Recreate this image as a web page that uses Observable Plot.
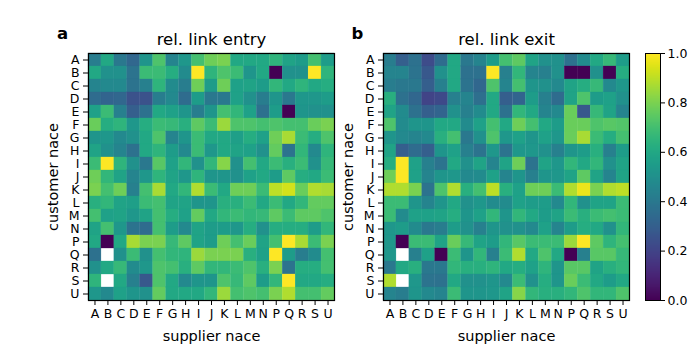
<!DOCTYPE html>
<html><head><meta charset="utf-8">
<script src="https://cdn.jsdelivr.net/npm/d3@7"></script>
<script src="https://cdn.jsdelivr.net/npm/@observablehq/plot@0.6"></script>
<style>
body{margin:0;background:#fff;}
#wrap{position:relative;width:700px;height:350px;overflow:hidden;font-family:"DejaVu Sans",sans-serif;background:#fff;}
#wrap > div, #wrap > svg{position:absolute;top:0;}
</style></head>
<body><div id="wrap"></div>
<script>
const naceLabels = ["A","B","C","D","E","F","G","H","I","J","K","L","M","N","P","Q","R","S","U"];
const colorTicks = [0, 0.2, 0.4, 0.6, 0.8, 1.0];

// rows = customer nace (A..U), columns = supplier nace (A..U); null = missing
const entryRows = [
 [0.42,0.60,0.40,0.33,0.52,0.72,0.45,0.53,0.70,0.78,0.80,0.60,0.60,0.60,0.65,0.58,0.55,0.70,0.55],
 [0.60,0.50,0.50,0.38,0.68,0.68,0.62,0.48,1.00,0.65,0.72,0.68,0.52,0.60,0.00,0.50,0.50,1.00,0.65],
 [0.45,0.47,0.47,0.38,0.43,0.65,0.48,0.42,0.78,0.55,0.78,0.57,0.58,0.55,0.66,0.60,0.65,0.60,0.62],
 [0.35,0.32,0.33,0.25,0.25,0.42,0.47,0.35,0.55,0.40,0.40,0.57,0.50,0.42,0.52,0.40,0.53,0.53,0.55],
 [0.57,0.68,0.43,0.30,0.37,0.60,0.57,0.52,0.42,0.52,0.70,0.66,0.57,0.37,0.55,0.00,0.52,0.50,0.50],
 [0.77,0.62,0.65,0.53,0.62,0.68,0.67,0.63,0.75,0.68,0.85,0.72,0.72,0.70,0.72,0.70,0.70,0.77,0.80],
 [0.52,0.53,0.47,0.50,0.60,0.72,0.45,0.52,0.68,0.60,0.60,0.56,0.62,0.57,0.78,0.87,0.68,0.62,0.72],
 [0.58,0.50,0.45,0.37,0.60,0.65,0.55,0.47,0.68,0.53,0.60,0.58,0.57,0.50,0.76,0.38,0.66,0.47,0.65],
 [0.68,1.00,0.65,0.50,0.40,0.74,0.57,0.66,0.50,0.66,0.82,0.50,0.70,0.60,0.68,0.63,0.68,0.50,0.67],
 [0.78,0.66,0.58,0.45,0.53,0.65,0.58,0.53,0.65,0.52,0.52,0.50,0.57,0.60,0.55,0.75,0.62,0.60,0.68],
 [0.80,0.70,0.78,0.43,0.70,0.87,0.60,0.66,0.88,0.68,0.60,0.78,0.78,0.68,0.90,0.93,0.77,0.88,0.87],
 [0.63,0.66,0.58,0.56,0.68,0.70,0.58,0.58,0.52,0.52,0.63,0.63,0.68,0.60,0.68,0.60,0.66,0.76,0.76],
 [0.70,0.57,0.58,0.53,0.58,0.70,0.62,0.57,0.76,0.60,0.66,0.68,0.66,0.67,0.75,0.68,0.75,0.75,0.72],
 [0.58,0.70,0.53,0.38,0.35,0.70,0.55,0.47,0.58,0.55,0.55,0.53,0.62,0.50,0.62,0.62,0.62,0.55,0.66],
 [0.60,0.00,0.60,0.87,0.80,0.80,0.67,0.75,0.58,0.55,0.78,0.70,0.77,0.58,0.70,1.00,0.87,0.68,0.80],
 [0.37,null,0.50,0.68,0.50,0.70,0.66,0.65,0.85,0.80,0.80,0.80,0.63,0.57,1.00,0.55,0.42,0.48,0.70],
 [0.50,0.60,0.67,0.48,0.53,0.72,0.70,0.63,0.75,0.66,0.66,0.68,0.72,0.63,0.80,0.38,0.62,0.62,0.70],
 [0.65,null,0.60,0.43,0.27,0.72,0.60,0.47,0.52,0.52,0.72,0.67,0.75,0.55,0.66,1.00,0.60,0.60,0.62],
 [0.53,0.47,0.57,0.52,0.50,0.76,0.60,0.60,0.60,0.66,0.85,0.70,0.72,0.70,0.80,0.88,0.70,0.70,0.76]
];

const exitRows = [
 [0.42,0.30,0.37,0.23,0.35,0.60,0.40,0.45,0.55,0.70,0.75,0.58,0.50,0.50,0.37,0.48,0.60,0.67,0.55],
 [0.45,0.45,0.38,0.27,0.50,0.60,0.37,0.37,1.00,0.43,0.66,0.45,0.43,0.50,0.00,0.00,0.50,0.00,0.62],
 [0.42,0.40,0.40,0.30,0.43,0.60,0.38,0.33,0.72,0.45,0.70,0.52,0.50,0.47,0.58,0.62,0.67,0.47,0.53],
 [0.63,0.37,0.33,0.20,0.22,0.43,0.45,0.36,0.60,0.30,0.32,0.55,0.43,0.35,0.58,0.72,0.55,0.57,0.50],
 [0.58,0.48,0.37,0.30,0.32,0.50,0.43,0.48,0.60,0.37,0.66,0.60,0.45,0.47,0.77,0.27,0.67,0.58,0.45],
 [0.72,0.48,0.52,0.52,0.60,0.60,0.48,0.57,0.70,0.60,0.78,0.70,0.60,0.55,0.77,0.77,0.72,0.74,0.73],
 [0.52,0.47,0.45,0.47,0.63,0.70,0.40,0.50,0.72,0.53,0.57,0.52,0.57,0.53,0.77,0.87,0.68,0.62,0.70],
 [0.58,0.30,0.35,0.30,0.52,0.57,0.43,0.38,0.53,0.38,0.53,0.53,0.50,0.43,0.52,0.55,0.63,0.43,0.55],
 [0.62,1.00,0.57,0.43,0.38,0.60,0.50,0.58,0.45,0.58,0.78,0.38,0.58,0.53,0.66,0.60,0.66,0.50,0.58],
 [0.78,1.00,0.57,0.45,0.52,0.53,0.47,0.48,0.57,0.45,0.52,0.43,0.52,0.53,0.58,0.75,0.58,0.45,0.58],
 [0.88,0.88,0.80,0.38,0.72,0.88,0.63,0.70,0.90,0.63,0.57,0.78,0.78,0.68,0.88,0.97,0.80,0.88,0.90],
 [0.68,0.68,0.52,0.45,0.52,0.60,0.50,0.53,0.48,0.48,0.57,0.55,0.55,0.47,0.66,0.50,0.58,0.58,0.68],
 [0.68,0.48,0.57,0.57,0.58,0.62,0.52,0.57,0.66,0.52,0.66,0.60,0.55,0.58,0.68,0.63,0.68,0.70,0.68],
 [0.53,0.55,0.48,0.40,0.42,0.55,0.50,0.43,0.52,0.50,0.50,0.47,0.57,0.45,0.55,0.62,0.60,0.50,0.66],
 [0.53,0.00,0.68,0.68,0.58,0.77,0.67,0.58,0.55,0.66,0.74,0.68,0.68,0.68,0.85,1.00,0.75,0.65,0.70],
 [0.53,null,0.43,0.57,0.00,0.68,0.52,0.66,0.43,0.68,0.88,0.60,0.72,0.60,0.00,0.43,0.74,0.74,0.67],
 [0.40,0.60,0.63,0.40,0.40,0.66,0.63,0.63,0.65,0.60,0.62,0.57,0.65,0.52,0.74,0.74,0.58,0.63,0.66],
 [0.88,null,0.53,0.38,0.37,0.60,0.50,0.50,0.52,0.47,0.68,0.50,0.62,0.52,0.77,0.68,0.60,0.55,0.60],
 [0.45,0.42,0.52,0.47,0.45,0.68,0.52,0.52,0.53,0.58,0.82,0.66,0.63,0.63,0.66,0.72,0.66,0.66,0.72]
];

function toCells(rows) {
  const out = [];
  rows.forEach((row, i) => row.forEach((v, j) => out.push({customer: naceLabels[i], supplier: naceLabels[j], value: v})));
  return out;
}

const colorScale = {type: "linear", scheme: "viridis", domain: [0, 1]};
const font = "DejaVu Sans, sans-serif";

function heatmap(rows, title, letter) {
  return Plot.plot({
    width: 340, height: 350,
    marginLeft: 88, marginRight: 6, marginTop: 53, marginBottom: 50,
    style: {fontFamily: font, fontSize: "12px", color: "#000", background: "transparent", overflow: "visible"},
    x: {domain: naceLabels, padding: 0, round: false, label: null},
    y: {domain: naceLabels, padding: 0, round: false, label: null},
    color: colorScale,
    marks: [
      Plot.cell(toCells(rows).filter(d => d.value != null), {x: "supplier", y: "customer", fill: "value", inset: 0, stroke: "value", strokeWidth: 0.3}),
      Plot.frame({stroke: "black", strokeWidth: 1.2}),
      Plot.axisX({anchor: "bottom", tickSize: 5, tickPadding: 4, label: null, fontSize: 12.5}),
      Plot.axisY({anchor: "left", tickSize: 5, tickPadding: 4, label: null, fontSize: 12.5}),
      Plot.text([title], {frameAnchor: "top", lineAnchor: "middle", dy: -14, text: d => d, fontSize: 16.5, fill: "black"}),
      Plot.text([letter], {frameAnchor: "top-left", lineAnchor: "middle", textAnchor: "middle", dx: -26, dy: -20, text: d => d, fontSize: 16.5, fontWeight: "bold", fill: "black"}),
      Plot.text(["customer nace"], {frameAnchor: "left", lineAnchor: "middle", textAnchor: "middle", dx: -35, rotate: -90, text: d => d, fontSize: 14.5, fill: "black"}),
      Plot.text(["supplier nace"], {frameAnchor: "bottom", lineAnchor: "middle", textAnchor: "middle", dy: 36, text: d => d, fontSize: 14.5, fill: "black"})
    ]
  });
}

const wrap = document.getElementById("wrap");
const p1 = heatmap(entryRows, "rel. link entry", "a");
p1.style.left = "0px";
wrap.appendChild(p1);
const p2 = heatmap(exitRows, "rel. link exit", "b");
p2.style.left = "295px";
wrap.appendChild(p2);

const cbar = Plot.plot({
  width: 70, height: 350,
  marginLeft: 15, marginRight: 40, marginTop: 53, marginBottom: 50,
  style: {fontFamily: font, fontSize: "12.5px", color: "#000", background: "transparent", overflow: "visible"},
  x: {domain: [0, 1], axis: null},
  y: {domain: [0, 1], label: null, axis: null},
  color: colorScale,
  marks: [
    Plot.raster({fill: (x, y) => y, x1: 0, x2: 1, y1: 0, y2: 1, width: 1, height: 256, imageRendering: "auto"}),
    Plot.frame({stroke: "black", strokeWidth: 1}),
    Plot.axisY({anchor: "right", ticks: colorTicks, tickFormat: d3.format(".1f"), tickSize: 4, tickPadding: 3, label: null, fontSize: 12.5})
  ]
});
cbar.style.left = "630px";
wrap.appendChild(cbar);
</script>
</body></html>
